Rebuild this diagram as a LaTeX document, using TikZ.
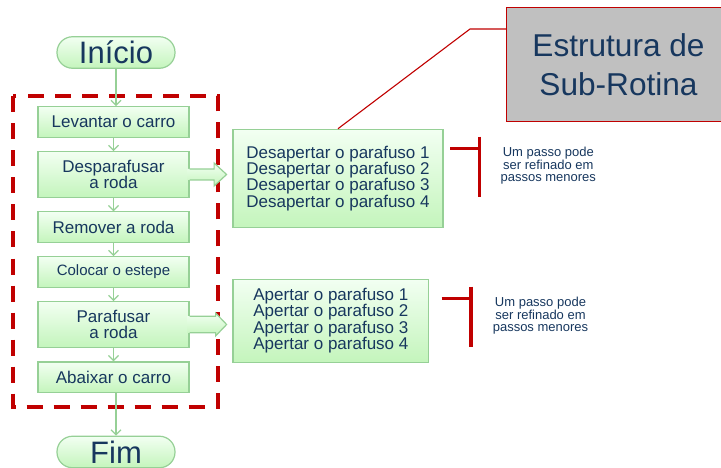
\documentclass[tikz,border=0pt]{standalone}
\usepackage{fontspec}
\setmainfont{Liberation Sans}
\usepackage{tikz}
\usetikzlibrary{arrows.meta,calc}
\definecolor{azulTexto}{RGB}{23,55,94}
\definecolor{verdeBorda}{RGB}{150,208,150}
\definecolor{verdeClaro}{RGB}{242,255,242}
\definecolor{verdeFundo}{RGB}{196,245,188}
\definecolor{vermelho}{RGB}{192,0,0}
\definecolor{cinza}{RGB}{192,192,192}

\begin{document}
\begin{tikzpicture}[x=1pt, y=-1pt,
    every node/.style={text=azulTexto, inner sep=0pt},
    terminal/.style={draw=verdeBorda, line width=1.2pt, top color=verdeClaro, bottom color=verdeFundo,
        rounded corners=15.5pt, minimum width=118pt, minimum height=31.5pt, font=\fontsize{31}{31}\selectfont},
    passo/.style={draw=verdeBorda, line width=1.2pt, top color=verdeClaro, bottom color=verdeFundo,
        minimum width=151pt, minimum height=30.6pt, align=center, font=\fontsize{17}{16}\selectfont},
    passoDuplo/.style={passo, minimum height=45.6pt},
    subpassos/.style={draw=verdeBorda, line width=1.2pt, top color=verdeClaro, bottom color=verdeFundo,
        align=left, font=\fontsize{17}{16.4}\selectfont},
    nota/.style={align=center, font=\fontsize{13}{12}\selectfont},
    seta/.style={draw=verdeBorda, line width=1.2pt, -{Straight Barb[length=5pt,width=10pt]}},
    setaBloco/.style={top color=verdeClaro, bottom color=verdeFundo},
    setaBorda/.style={draw=verdeBorda, line width=1.2pt, line join=miter},
    chave/.style={draw=vermelho, line width=3.5pt},
    tracejado/.style={draw=vermelho, line width=4pt, dash pattern=on 16pt off 11pt}]
\useasboundingbox (0,0) rectangle (721,468);

\node[terminal] (inicio) at (116,52.5) {Início};
\draw[tracejado] (12.5,96.5) rectangle (217.5,406.5);
\node[passo] (levantar) at (113.5,122) {Levantar o carro};
\node[passoDuplo] (desparafusar) at (113.5,174.5) {Desparafusar\\a roda};
\node[passo] (remover) at (113.5,227.2) {Remover a roda};
\node[passo, font=\fontsize{15}{15}\selectfont] (colocar) at (113.5,272) {Colocar o estepe};
\node[passoDuplo] (parafusar) at (113.5,324.5) {Parafusar\\a roda};
\node[passo] (abaixar) at (113.5,377.2) {Abaixar o carro};
\node[terminal] (fim) at (116,452) {Fim};

\node[subpassos, minimum width=210pt, minimum height=98pt] (desapertar) at (338,178.3)
    {Desapertar o parafuso 1\\Desapertar o parafuso 2\\Desapertar o parafuso 3\\Desapertar o parafuso 4};
\node[subpassos, minimum width=195.7pt, minimum height=83pt] (apertar) at (330.9,320.8)
    {Apertar o parafuso 1\\Apertar o parafuso 2\\Apertar o parafuso 3\\Apertar o parafuso 4};

\node[draw=vermelho, line width=1.2pt, fill=cinza, minimum width=223.6pt, minimum height=113.4pt,
    align=center, font=\fontsize{31.6}{39.3}\selectfont] (titulo) at (618.5,64.5) {Estrutura de\\Sub-Rotina};
\coordinate (joelho) at (470,29);
\draw[vermelho, line width=1.1pt] (titulo.west |- joelho) -- (joelho) -- (desapertar.north);

\draw[seta] (inicio.south) -- (inicio.south |- levantar.north);
\draw[seta] (levantar) -- (desparafusar);
\draw[seta] (desparafusar) -- (remover);
\draw[seta] (remover) -- (colocar);
\draw[seta] (colocar) -- (parafusar);
\draw[seta] (parafusar) -- (abaixar);
\draw[seta] (abaixar.south -| fim.north) -- (fim.north);

\path[setaBloco] ($(desparafusar.east)+(-2,-5.5)$) -- ++(26.5,0) -- ++(0,-6) -- ++(12.5,11.5)
    -- ++(-12.5,11.5) -- ++(0,-6) -- ++(-26.5,0) -- cycle;
\draw[setaBorda] ($(desparafusar.east)+(0,-5.5)$) -- ++(24.5,0) -- ++(0,-6) -- ++(12.5,11.5)
    -- ++(-12.5,11.5) -- ++(0,-6) -- ++(-24.5,0);
\path[setaBloco] ($(parafusar.east)+(-2,-8.3)$) -- ++(28,0) -- ++(0,-3.2) -- ++(11,11.5)
    -- ++(-11,11.5) -- ++(0,-3.2) -- ++(-28,0) -- cycle;
\draw[setaBorda] ($(parafusar.east)+(0,-8.3)$) -- ++(26,0) -- ++(0,-3.2) -- ++(11,11.5)
    -- ++(-11,11.5) -- ++(0,-3.2) -- ++(-26,0);

\draw[chave] (450,148.3) -- (479.3,148.3) (479.3,136.7) -- (479.3,196.7);
\node[nota] (nota1) at (548.3,166) {Um passo pode\\ser refinado em\\passos menores};
\draw[chave] (441.7,298.3) -- (471,298.3) (471,286.7) -- (471,346.7);
\node[nota] (nota2) at (540.5,316) {Um passo pode\\ser refinado em\\passos menores};
\end{tikzpicture}
\end{document}
